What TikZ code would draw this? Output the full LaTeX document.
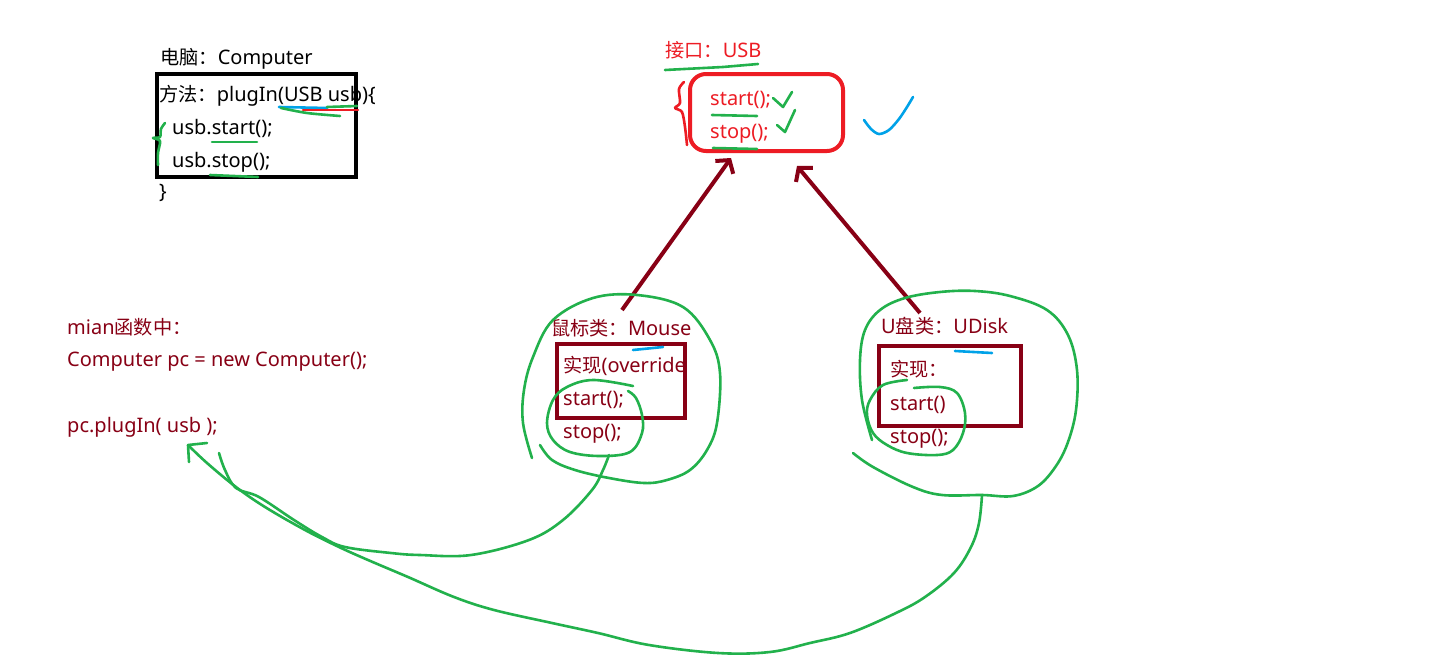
\documentclass[tikz,border=0pt]{standalone}
\usepackage{fontspec}
\setmainfont{Noto Sans}
\newfontfamily\cjk[Scale=0.96]{Noto Sans CJK SC}
\usetikzlibrary{arrows.meta}
\definecolor{usbred}{HTML}{ED1C24}
\definecolor{clsred}{HTML}{880015}
\definecolor{pengreen}{HTML}{22B14C}
\definecolor{penblue}{HTML}{00A2E8}
\begin{document}
\begin{tikzpicture}
[x=1pt,y=-1pt,
  txt/.style={anchor=base west,inner sep=0pt,font=\fontsize{20}{23}\selectfont},
  boxline/.style={line width=4pt},
  pen/.style={line width=2.6pt,line cap=round,line join=round},
  greenpen/.style={pen,color=pengreen},
  bluepen/.style={pen,color=penblue},
  redpen/.style={pen,color=usbred},
  implarrow/.style={line width=4pt,color=clsred,-{Straight Barb[length=9pt,width=22pt]}}]
\useasboundingbox (0,0) rectangle (1434,661);
\fill[white] (0,0) rectangle (1434,661);
%% computer class
\node[txt] (comptitle) at (160,65) {{\cjk 电脑：}Computer};
\foreach \name/\x/\y/\line in {
  comp1/159/101/{{\cjk 方法：}plugIn(USB usb)\{},
  comp2/172/134/{usb.start();}, comp3/172/167/{usb.stop();},
  comp4/159/198/{\}}} {
  \node[txt] (\name) at (\x,\y) {\line};
}
\draw[boxline] (157,74) rectangle (356,177);
%% interface USB
\node[txt,text=usbred] (usbtitle) at (665,57) {{\cjk 接口：}USB};
\node[txt,text=usbred] (usbstart) at (710,105) {start();};
\node[txt,text=usbred] (usbstop) at (710,138) {stop();};
\draw[boxline,color=usbred,rounded corners=16pt] (690,74) rectangle (843,151);
%% main
\node[txt,text=clsred] (main1) at (67,334) {mian{\cjk 函数中：}};
\node[txt,text=clsred] (main2) at (67,366) {Computer pc = new Computer();};
\node[txt,text=clsred] (main3) at (67,432) {pc.plugIn( usb );};
%% class Mouse
\node[txt,text=clsred] (mousetitle) at (551,335) {{\cjk 鼠标类：}Mouse};
\foreach \name/\y/\line in {mouse1/372/{{\cjk 实现}(override},
  mouse2/405/{start();}, mouse3/438/{stop();}} {
  \node[txt,text=clsred] (\name) at (563,\y) {\line};
}
\draw[boxline,color=clsred] (557,344) rectangle (685,418);
%% class UDisk
\node[txt,text=clsred] (disktitle) at (881,333) {U{\cjk 盘类：}UDisk};
\foreach \name/\y/\line in {disk1/376/{{\cjk 实现：}},
  disk2/410/{start()}, disk3/443/{stop();}} {
  \node[txt,text=clsred] (\name) at (890,\y) {\line};
}
\draw[boxline,color=clsred] (879,346) rectangle (1021,426);
%% implements arrows
\coordinate (mousetail) at (622,310);
\coordinate (usbtip1) at (731,158);
\coordinate (disktail) at (920,313);
\coordinate (usbtip2) at (797,166);
\draw[implarrow] (mousetail) -- (usbtip1);
\draw[implarrow] (disktail) -- (usbtip2);
%% pen marks on computer
\draw[greenpen] plot[smooth] coordinates {(165,123) (161,129) (160,137) (153,138) (160,141) (158,153) (158,165)};
\draw[bluepen] (279,107) -- (327,108);
\draw[redpen] (303,110) -- (358,110);
\draw[greenpen] (327,107) -- (357,106);
\draw[greenpen] plot[smooth] coordinates {(281,108) (307,113) (340,116)};
\draw[greenpen] (212,142) -- (257,142);
\draw[greenpen] (210,175) -- (258,177);
%% pen marks on USB
\draw[greenpen] (665,70) -- (723,67) -- (758,64);
\draw[redpen] plot[smooth] coordinates {(684,82) (679,89) (680,103) (675,108) (682,112) (685,127) (687,145)};
\draw[greenpen] (712,115) -- (757,116);
\draw[greenpen] (713,148) -- (757,149);
\draw[greenpen] (773,98) -- (783,107) -- (792,92);
\draw[greenpen] (777,125) -- (785,132) -- (795,110);
\draw[bluepen] plot[smooth] coordinates {(864,120) (871,129) (879,134) (889,130) (899,119) (907,107) (913,97)};
\draw[bluepen] (633,350) -- (663,347);
\draw[bluepen] (955,351) -- (992,353);
%% circles round the classes
\draw[greenpen] plot[smooth,tension=0.6] coordinates {(532,458) (523,423) (524,390) (533,357)
  (553,320) (593,298) (637,295) (683,307) (710,340) (720,373) (717,423) (707,450) (690,470)
  (667,480) (644,483) (609,478) (575,470) (552,460) (540,445)};
\draw[greenpen] plot[smooth,tension=0.6] coordinates {(633,386) (593,380) (567,387) (553,400)
  (547,423) (553,440) (570,452) (600,456) (630,452) (642,433) (642,415) (636,398) (628,391)};
\draw[greenpen] plot[smooth,tension=0.6] coordinates {(872,440) (862,400) (860,360) (865,330)
  (880,310) (905,298) (940,292) (975,291) (1010,296) (1047,310) (1068,335) (1077,370)
  (1076,410) (1068,442) (1056,466) (1038,486) (1013,496) (982,495) (942,495) (913,487)
  (873,467) (853,453)};
\draw[greenpen] plot[smooth,tension=0.6] coordinates {(907,380) (883,385) (870,400) (867,415)
  (873,433) (887,445) (907,453) (937,455) (953,450) (963,433) (965,413) (957,393) (940,387)
  (914,388)};
%% back to the call in main
\coordinate (calltip) at (188,445);
\draw[greenpen] plot[smooth,tension=0.6] coordinates {(982,495) (979,523) (971,547) (954,573)
  (925,597) (896,613) (850,633) (810,643) (770,652) (718,653) (649,645) (598,633) (552,623)
  (494,610) (454,597) (408,577) (368,560) (339,547) (305,530) (265,507) (236,487) (207,463)
  (calltip)};
\draw[greenpen] plot[smooth,tension=0.6] coordinates {(609,455) (603,470) (592,490) (563,520)
  (529,540) (471,555) (420,555) (391,553) (345,547) (322,537) (294,520) (259,497) (236,488)
  (225,470) (219,453)};
\draw[greenpen] (207,443) -- (calltip) -- (189,462);
\end{tikzpicture}
\end{document}
